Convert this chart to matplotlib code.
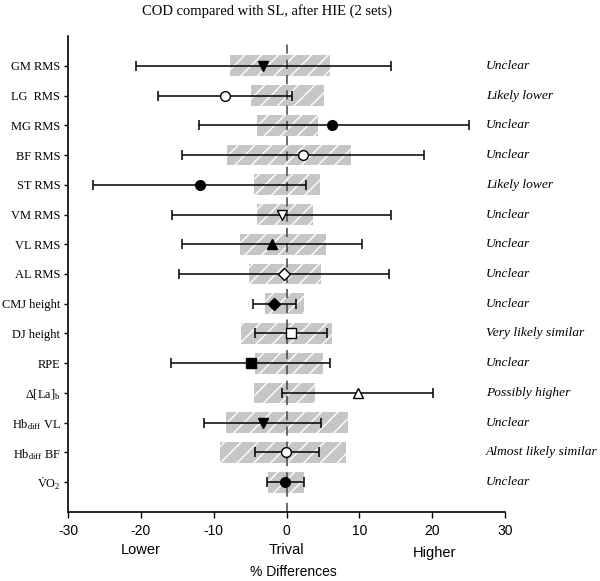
import matplotlib.pyplot as plt

plt.rcParams['font.family'] = 'Liberation Serif'
plt.rcParams['mathtext.fontset'] = 'custom'
plt.rcParams['mathtext.rm'] = 'Liberation Serif'
plt.rcParams['mathtext.it'] = 'Liberation Serif:italic'
plt.rcParams['hatch.linewidth'] = 1.0

labels = ['GM RMS', 'LG  RMS', 'MG RMS', 'BF RMS', 'ST RMS', 'VM RMS', 'VL RMS', 'AL RMS',
          'CMJ height', 'DJ height', 'RPE', r'$\Delta$[La]$_{\rm b}$',
          r'Hb$_{\rm diff}$ VL', r'Hb$_{\rm diff}$ BF', r'$\dot{\rm V}$O$_2$']
mean = [-3.2, -8.5, 6.3, 2.3, -11.9, -0.6, -2.0, -0.4, -1.7, 0.6, -4.9, 9.8, -3.2, -0.1, -0.2]
ci_low = [-20.7, -17.7, -12.0, -14.3, -26.5, -15.7, -14.4, -14.8, -4.6, -4.3, -15.9, -0.6, -11.3, -4.3, -2.7]
ci_high = [14.4, 0.8, 25.1, 18.9, 2.7, 14.4, 10.4, 14.1, 1.3, 5.6, 6.0, 20.1, 4.8, 4.5, 2.4]
trivial_low = [-7.7, -4.9, -4.0, -8.1, -4.5, -4.0, -6.4, -5.2, -3.0, -6.3, -4.3, -4.5, -8.3, -9.1, -2.5]
trivial_high = [6.0, 5.2, 4.3, 8.8, 4.6, 3.6, 5.4, 4.7, 2.4, 6.3, 5.0, 3.9, 8.4, 8.2, 2.4]
outcome = ['Unclear', 'Likely lower', 'Unclear', 'Unclear', 'Likely lower', 'Unclear', 'Unclear',
           'Unclear', 'Unclear', 'Very likely similar', 'Unclear', 'Possibly higher', 'Unclear',
           'Almost likely similar', 'Unclear']

markers = ['v', 'o', 'o', 'o', 'o', 'v', '^', 'D', 'D', 's', 's', '^', 'v', 'o', 'o']
filled = [True, False, True, False, True, False, True, False, True, False, True, False, True, False, True]

fig = plt.figure(figsize=(6, 5.81), dpi=100)
ax = fig.add_axes([0.1133, 0.1188, 0.7284, 0.8192])

n = len(labels)
ypos = [n - i for i in range(n)]

# shaded "trivial" zones
widths = [h - l for l, h in zip(trivial_low, trivial_high)]
ax.barh(ypos, widths, left=trivial_low, height=0.7, color='#c6c6c6',
        edgecolor='white', linewidth=0, hatch='//', zorder=1)

ax.axvline(0, ymax=0.985, color='#444444', linestyle=(0, (6, 4)), linewidth=1.1, zorder=2)

for i in range(n):
    err = [[mean[i] - ci_low[i]], [ci_high[i] - mean[i]]]
    ms = 6 if markers[i] == 'D' else 7
    ax.errorbar(mean[i], ypos[i], xerr=err, fmt=markers[i], color='black',
                mfc='black' if filled[i] else 'white', mec='black', ms=ms,
                ecolor='black', elinewidth=1.1, capsize=3.3, capthick=1.1, zorder=3)
    ax.text(27.4, ypos[i], outcome[i], style='italic', fontsize=9.7,
            va='center', ha='left', clip_on=False)

ax.set_xlim(-30, 30)
ax.set_ylim(0, 16)
ax.set_yticks(ypos)
ax.set_yticklabels(labels, fontsize=8.9)
ax.set_xticks([-30, -20, -10, 0, 10, 20, 30])
ax.set_xticklabels(['-30', '-20', '-10', '0', '10', '20', '30'], family='Liberation Sans', fontsize=10)
ax.tick_params(axis='y', length=3, width=1, pad=2.5)
ax.tick_params(axis='x', length=4, width=1, pad=5)
for s in ['top', 'right']:
    ax.spines[s].set_visible(False)
for s in ['left', 'bottom']:
    ax.spines[s].set_linewidth(1.2)

ax.text(-20, -1.28, 'Lower', ha='center', va='center', family='Liberation Sans', fontsize=10.5)
ax.text(0, -1.28, 'Trival', ha='center', va='center', family='Liberation Sans', fontsize=10.5)
ax.text(20.3, -1.38, 'Higher', ha='center', va='center', family='Liberation Sans', fontsize=10.5)
ax.text(0.9, -2.02, '% Differences', ha='center', va='center', family='Liberation Sans', fontsize=10)

fig.text(0.445, 1 - 11 / 581, 'COD compared with SL, after HIE (2 sets)', ha='center', va='center',
         fontsize=10.5)

fig.savefig('out.png', dpi=100)
